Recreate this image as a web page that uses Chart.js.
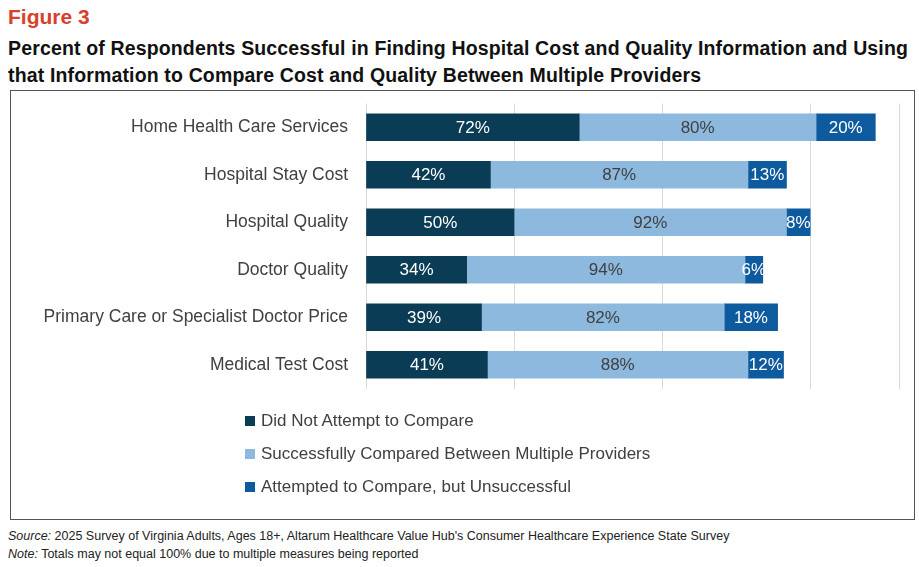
<!DOCTYPE html>
<html>
<head>
<script src="https://cdn.jsdelivr.net/npm/chart.js@4"></script>
<style>
  body { margin: 0; width: 919px; height: 567px; background: #fff; font-family: "Liberation Sans", Arial, sans-serif; position: relative; overflow: hidden; }
  .fig { position: absolute; left: 8px; top: 5px; color: #d9402b; font-weight: bold; font-size: 21px; }
  .title { position: absolute; left: 8px; top: 35px; font-weight: bold; font-size: 19.5px; letter-spacing: 0.15px; line-height: 27px; color: #111; }
  .box { position: absolute; left: 10px; top: 90px; width: 903px; height: 428px; border: 1px solid #555; }
  #wrap { position: absolute; left: 12px; top: 83px; width: 900px; height: 326px; }
  .legend { position: absolute; left: 245px; top: 404px; font-size: 17px; color: #404040; }
  .legend div { height: 33px; display: flex; align-items: center; }
  .legend span { display: inline-block; width: 10px; height: 10px; margin-right: 6px; }
  .src { position: absolute; left: 8px; top: 527px; font-size: 12.5px; color: #222; line-height: 18px; }
</style>
</head>
<body>
<div class="fig">Figure 3</div>
<div class="title">Percent of Respondents Successful in Finding Hospital Cost and Quality Information and Using<br>that Information to Compare Cost and Quality Between Multiple Providers</div>
<div class="box"></div>
<div id="wrap"><canvas id="chart"></canvas></div>
<div class="legend" id="legend"></div>
<div class="src"><i>Source:</i> 2025 Survey of Virginia Adults, Ages 18+, Altarum Healthcare Value Hub's Consumer Healthcare Experience State Survey<br><i>Note:</i> Totals may not equal 100% due to multiple measures being reported</div>
<script>
const categories = ['Home Health Care Services', 'Hospital Stay Cost', 'Hospital Quality', 'Doctor Quality', 'Primary Care or Specialist Doctor Price', 'Medical Test Cost'];
const didNotAttempt = [72, 42, 50, 34, 39, 41];
const successful = [80, 87, 92, 94, 82, 88];
const unsuccessful = [20, 13, 8, 6, 18, 12];
const seriesNames = ['Did Not Attempt to Compare', 'Successfully Compared Between Multiple Providers', 'Attempted to Compare, but Unsuccessful'];
const colors = ['#0b3c55', '#8db9df', '#0d5a9e'];

const legend = document.getElementById('legend');
seriesNames.forEach((n, i) => {
    legend.innerHTML += `<div><span style="background:${colors[i]}"></span>${n}</div>`;
});

const labelPlugin = {
    id: 'barLabels',
    afterDatasetsDraw(chart) {
        const ctx = chart.ctx;
        ctx.save();
        ctx.font = '17px "Liberation Sans", Arial, sans-serif';
        ctx.textAlign = 'center';
        ctx.textBaseline = 'middle';
        chart.data.datasets.forEach((ds, di) => {
            chart.getDatasetMeta(di).data.forEach((bar, i) => {
                const x = (bar.x + bar.base) / 2;
                ctx.fillStyle = di === 1 ? '#404040' : '#fff';
                ctx.fillText(ds.data[i] + '%', x, bar.y + 1);
            });
        });
        ctx.restore();
    }
};

new Chart(document.getElementById('chart').getContext('2d'), {
    type: 'bar',
    data: {
        labels: categories,
        datasets: [didNotAttempt, successful, unsuccessful].map((d, i) => ({
            label: seriesNames[i],
            data: d,
            backgroundColor: colors[i],
            borderWidth: 0,
            barThickness: 27
        }))
    },
    options: {
        indexAxis: 'y',
        responsive: true,
        maintainAspectRatio: false,
        animation: false,
        layout: { padding: { right: 13 } },
        plugins: { legend: { display: false }, tooltip: { enabled: false } },
        scales: {
            x: {
                stacked: true,
                min: 0,
                max: 180,
                ticks: { display: false, stepSize: 50 },
                border: { display: false },
                grid: { color: '#d9d9d9', drawTicks: false }
            },
            y: {
                stacked: true,
                afterFit(scale) { scale.width = 354; },
                ticks: { color: '#404040', font: { size: 17.5, family: '"Liberation Sans", Arial, sans-serif' }, padding: 10 },
                grid: { display: false },
                border: { display: false }
            }
        }
    },
    plugins: [labelPlugin]
});
</script>
</body>
</html>
